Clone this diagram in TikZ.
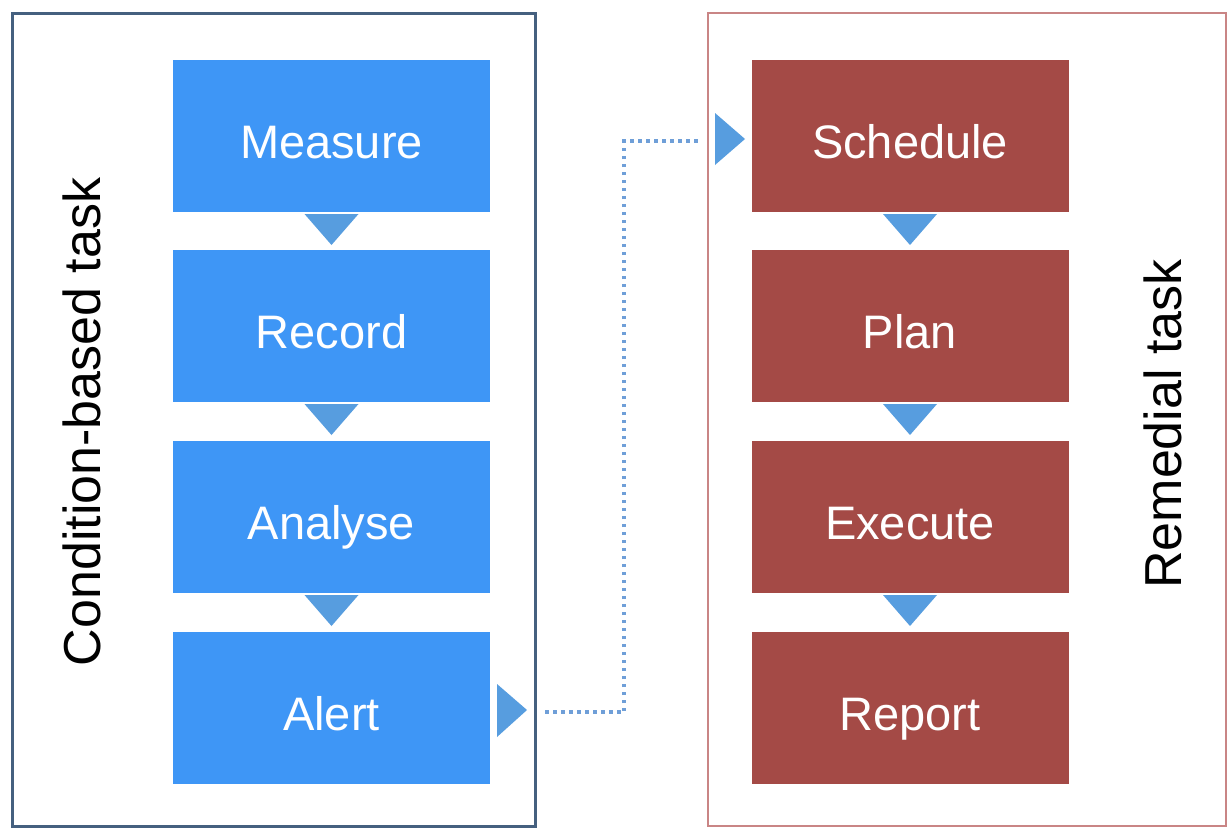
\documentclass[tikz,border=0pt]{standalone}
\usepackage{fontspec}
\setmainfont{Liberation Sans}
\definecolor{boxblue}{HTML}{3E96F6}
\definecolor{boxred}{HTML}{A44A46}
\definecolor{frameblue}{HTML}{45607F}
\definecolor{framered}{HTML}{C98585}
\definecolor{triblue}{HTML}{579DDF}
\definecolor{dotblue}{HTML}{6F9FD8}
\begin{document}
\begin{tikzpicture}[x=1pt,y=-1pt,
  stepbox/.style={minimum width=317pt,minimum height=152pt,inner sep=0pt,text=white,text height=44pt,text depth=0pt,font=\fontsize{47}{56}\selectfont},
  bluebox/.style={stepbox,fill=boxblue},
  redbox/.style={stepbox,fill=boxred},
  sidelabel/.style={rotate=90,font=\fontsize{52}{62}\selectfont,text=black},
  tri/.style={fill=triblue,draw=none},
  dotline/.style={draw=dotblue,line width=4pt,dash pattern=on 3.5pt off 4.5pt}]
\useasboundingbox (0,0) rectangle (1228,827);
\clip (0,0) rectangle (1228,827);
\fill[white] (0,0) rectangle (1228,827);
% frames
\draw[frameblue,line width=3pt] (12,13) rectangle (535,826);
\draw[framered,line width=2.5pt] (708,13) rectangle (1226,826);
% side labels
\node[sidelabel] (lcond) at (82,422) {Condition-based task};
\node[sidelabel] (lrem) at (1163,424) {Remedial task};
% blue boxes
\node[bluebox] (measure) at (331.5,136) {Measure};
\node[bluebox] (record) at (331.5,326) {Record};
\node[bluebox] (analyse) at (331.5,517) {Analyse};
\node[bluebox] (alert) at (331.5,708) {Alert};
% red boxes
\node[redbox] (schedule) at (910,136) {Schedule};
\node[redbox] (plan) at (910,326) {Plan};
\node[redbox] (execute) at (910,517) {Execute};
\node[redbox] (report) at (910,708) {Report};
% down triangles
\foreach \cx in {331.5,910}{
  \foreach \ty in {214,404,595}{
    \fill[tri] (\cx-27,\ty) -- (\cx+27,\ty) -- (\cx,\ty+31) -- cycle;
  }
}
% right triangles
\fill[tri] (497,684) -- (527,710) -- (497,737) -- cycle;
\fill[tri] (715,113) -- (745,139) -- (715,165) -- cycle;
% dotted connector
\coordinate (cstart) at (545,712);
\coordinate (cbend) at (624,141);
\coordinate (cend) at (699,141);
\draw[dotline] (cstart) -| (cbend) -- (cend);
\end{tikzpicture}
\end{document}
